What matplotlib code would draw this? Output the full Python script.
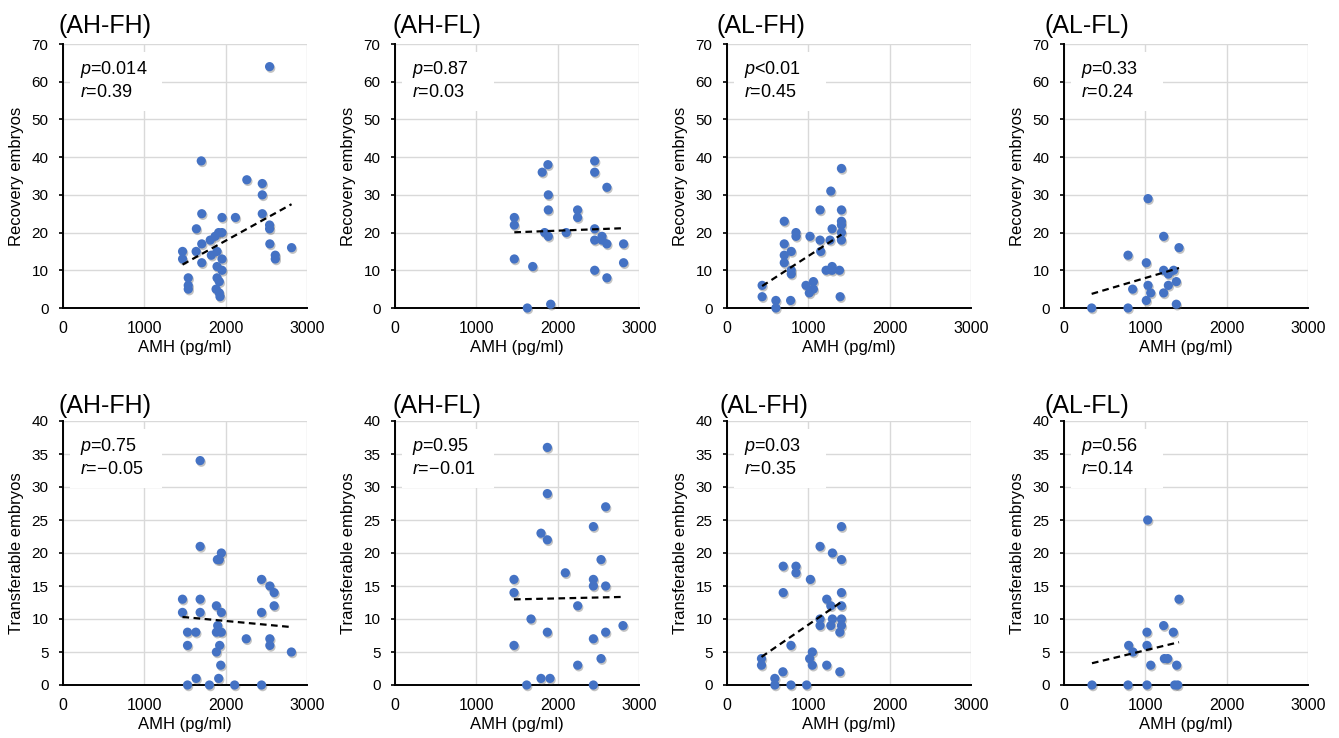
import numpy as np
import matplotlib
matplotlib.use("Agg")
import matplotlib.pyplot as plt
import matplotlib.transforms as mtransforms

plt.rcParams['font.family'] = ['Liberation Sans', 'DejaVu Sans']
plt.rcParams['mathtext.fontset'] = 'custom'
plt.rcParams['mathtext.it'] = 'Liberation Sans:italic'
plt.rcParams['mathtext.rm'] = 'Liberation Sans'

# ---------------- data ----------------
titles = ["(AH-FH)", "(AH-FL)", "(AL-FH)", "(AL-FL)"]
ylabels = ["Recovery embryos", "Transferable embryos"]
xlabel = "AMH (pg/ml)"
xticks = [0, 1000, 2000, 3000]
rec_yticks = [0, 10, 20, 30, 40, 50, 60, 70]
tra_yticks = [0, 5, 10, 15, 20, 25, 30, 35, 40]

# Recovery embryos
ahfh_rec_amh = [2540, 1700, 2260, 2450, 2450, 2450, 1706, 1955, 2120, 2540, 2540, 1640, 1955, 1914,
                1870, 1810, 1706, 1637, 1470, 1470, 1894, 1824, 2543, 2610, 2610, 2810, 1706, 1955,
                1894, 1955, 1894, 1922, 1540, 1540, 1540, 1882, 1922, 1930]
ahfh_rec = [64, 39, 34, 33, 30, 25, 25, 24, 24, 22, 21, 21, 20, 20, 19, 18, 17, 15, 15, 13, 15, 14,
            17, 14, 13, 16, 12, 13, 11, 10, 8, 7, 8, 6, 5, 5, 4, 3]

ahfl_rec_amh = [1880, 1810, 2455, 2455, 2605, 1885, 1885, 2245, 2245, 1467, 1467, 1840, 1885, 2105,
                2455, 2455, 2545, 2545, 2605, 2810, 2810, 1467, 1693, 2455, 2605, 1627, 1914]
ahfl_rec = [38, 36, 39, 36, 32, 30, 26, 26, 24, 24, 22, 20, 19, 20, 21, 18, 19, 18, 17, 17, 12, 13,
            11, 10, 8, 0, 1]

alfh_rec_amh = [1407, 1276, 1144, 1407, 1407, 704, 848, 848, 1020, 1292, 1407, 1407, 1407, 1144,
                1267, 1152, 704, 704, 790, 704, 790, 790, 1218, 1292, 1292, 1383, 432, 432, 971,
                1062, 1062, 1012, 601, 601, 782, 1391]
alfh_rec = [37, 31, 26, 26, 23, 23, 20, 19, 19, 21, 22, 20, 18, 18, 18, 15, 17, 14, 15, 12, 9, 10,
            10, 11, 10, 10, 6, 3, 6, 7, 5, 4, 2, 0, 2, 3]

alfl_rec_amh = [1033, 1225, 1414, 787, 1012, 1225, 1348, 1283, 1381, 1283, 1033, 844, 1066, 1225,
                1012, 1381, 340, 787]
alfl_rec = [29, 19, 16, 14, 12, 10, 10, 9, 7, 6, 6, 5, 4, 4, 2, 1, 0, 0]

# Transferable embryos
ahfh_tra_amh = [1686, 1686, 1947, 1898, 1922, 2441, 2543, 2596, 2596, 2441, 1469, 1686, 1469, 1686,
                1886, 1947, 1902, 1531, 1633, 1886, 1947, 2253, 2543, 2543, 1531, 1926, 1886, 2808,
                1939, 1637, 1914, 1531, 1800, 2110, 2441]
ahfh_tra = [34, 21, 20, 19, 19, 16, 15, 14, 12, 11, 13, 13, 11, 11, 12, 11, 9, 8, 8, 8, 8, 7, 7, 6,
            6, 6, 5, 5, 3, 1, 1, 0, 0, 0, 0]

ahfl_tra_amh = [1873, 1873, 2590, 2439, 1795, 1873, 2533, 2094, 1463, 2439, 2439, 2590, 1463, 2246,
                1672, 2803, 1873, 2590, 2439, 1463, 2533, 2246, 1795, 1906, 1619, 2439]
ahfl_tra = [36, 29, 27, 24, 23, 22, 19, 17, 16, 16, 15, 15, 14, 12, 10, 9, 8, 8, 7, 6, 4, 3, 1, 1,
            0, 0]

alfh_tra_amh = [1407, 1144, 1296, 1407, 691, 848, 848, 1025, 691, 1407, 1226, 1276, 1407, 1144,
                1296, 1407, 1144, 1276, 1407, 1387, 786, 424, 424, 1049, 1016, 1049, 1226, 687,
                1387, 588, 588, 786, 979]
alfh_tra = [24, 21, 20, 19, 18, 18, 17, 16, 14, 14, 13, 12, 12, 10, 10, 10, 9, 9, 9, 8, 6, 4, 3, 5,
            4, 3, 3, 2, 2, 1, 0, 0, 0]

alfl_tra_amh = [1029, 1414, 1225, 1344, 1020, 795, 1020, 848, 1234, 1275, 1066, 1385, 344, 787,
                1020, 1361, 1398]
alfl_tra = [25, 13, 9, 8, 8, 6, 6, 5, 4, 4, 3, 3, 0, 0, 0, 0, 0]

rec_p = ["=0.014", "=0.87", "<0.01", "=0.33"]
rec_r = ["=0.39", "=0.03", "=0.45", "=0.24"]
tra_p = ["=0.75", "=0.95", "=0.03", "=0.56"]
tra_r = ["=\u22120.05", "=\u22120.01", "=0.35", "=0.14"]

rec_x = [ahfh_rec_amh, ahfl_rec_amh, alfh_rec_amh, alfl_rec_amh]
rec_y = [ahfh_rec, ahfl_rec, alfh_rec, alfl_rec]
tra_x = [ahfh_tra_amh, ahfl_tra_amh, alfh_tra_amh, alfl_tra_amh]
tra_y = [ahfh_tra, ahfl_tra, alfh_tra, alfl_tra]

# ---------------- layout ----------------
W, H = 1339, 738
fig = plt.figure(figsize=(W / 100, H / 100), dpi=100)

lefts_px = [63, 395, 727, 1064]
width_px = 244
rows = [
    dict(top=44, bottom=308, xs=rec_x, ys=rec_y, ymax=70, yticks=rec_yticks,
         ylabel=ylabels[0], ps=rec_p, rs=rec_r, title_base=33),
    dict(top=421, bottom=685, xs=tra_x, ys=tra_y, ymax=40, yticks=tra_yticks,
         ylabel=ylabels[1], ps=tra_p, rs=tra_r, title_base=413),
]
title_x_px = [[58, 393, 716, 1045], [58, 393, 719, 1045]]

blue = "#4472C4"
grid_c = "#d9d9d9"

for ri, row in enumerate(rows):
    for ci in range(4):
        l = lefts_px[ci] / W
        b = 1 - row['bottom'] / H
        h = (row['bottom'] - row['top']) / H
        ax = fig.add_axes([l, b, width_px / W, h])
        x = np.array(row['xs'][ci], dtype=float)
        y = np.array(row['ys'][ci], dtype=float)

        ax.set_xlim(0, 3000)
        ax.set_ylim(0, row['ymax'])
        ax.set_xticks(xticks)
        ax.set_yticks(row['yticks'])
        ax.grid(True, color=grid_c, linewidth=1.0, zorder=0)
        ax.set_axisbelow(True)
        for s in ['top', 'right']:
            ax.spines[s].set_visible(False)
        for s in ['left', 'bottom']:
            ax.spines[s].set_linewidth(1.4)
            ax.spines[s].set_color('black')
            ax.spines[s].set_zorder(3)
        ax.tick_params(axis='y', direction='out', length=3, width=1.2, pad=7.5, labelsize=11)
        ax.tick_params(axis='x', length=0, pad=9, labelsize=11.5)

        # white box behind stats text
        ax.add_patch(plt.Rectangle((0.03, 0.745), 0.375, 0.225, transform=ax.transAxes,
                                   facecolor='white', edgecolor='none', zorder=1))
        ax.text(0.07, 0.905, r'$\it{p}$' + row['ps'][ci], transform=ax.transAxes,
                fontsize=13, va='center', ha='left', zorder=2)
        ax.text(0.07, 0.815, r'$\it{r}$' + row['rs'][ci], transform=ax.transAxes,
                fontsize=13, va='center', ha='left', zorder=2)

        # shadow + points
        shadow_tr = mtransforms.offset_copy(ax.transData, fig=fig, x=0.8, y=-1.2, units='points')
        ax.scatter(x, y, s=44, color='#555555', alpha=0.35, edgecolors='none',
                   transform=shadow_tr, zorder=4, clip_on=False)
        ax.scatter(x, y, s=44, color=blue, edgecolors='none', zorder=5, clip_on=False)

        # linear trend line
        k, c0 = np.polyfit(x, y, 1)
        xs = np.array([x.min(), x.max()])
        ax.plot(xs, k * xs + c0, color='black', linestyle=(0, (3, 2)), linewidth=1.6, zorder=6)

        ax.set_xlabel(xlabel, fontsize=12, labelpad=3)
        ax.set_ylabel(row['ylabel'], fontsize=12, labelpad=5)

        fig.text(title_x_px[ri][ci] / W, 1 - row['title_base'] / H, titles[ci],
                 fontsize=18, ha='left', va='baseline')

fig.savefig("out.png", dpi=100)
